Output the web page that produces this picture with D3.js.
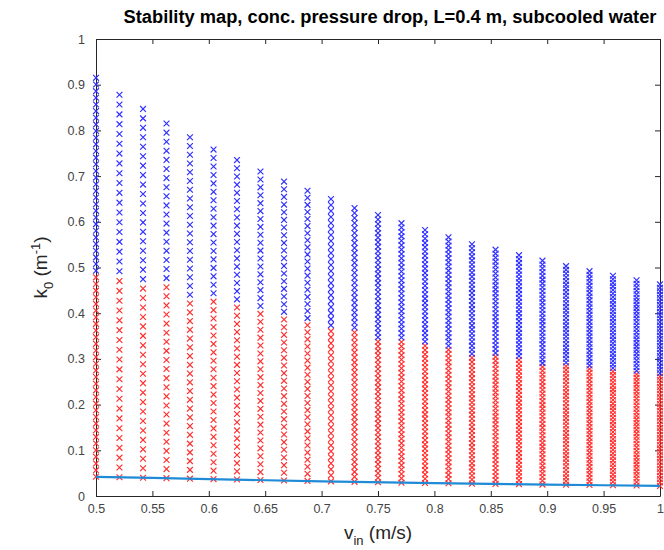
<!DOCTYPE html>
<html>
<head>
<meta charset="utf-8">
<script src="https://cdn.jsdelivr.net/npm/d3@7"></script>
<style>
html,body{margin:0;padding:0;background:#fff;}
svg{display:block;font-family:"Liberation Sans",Arial,sans-serif;}
</style>
</head>
<body>
<svg id="chart" width="664" height="550"></svg>
<script>
// ---- data ----
const title = "Stability map, conc. pressure drop, L=0.4 m, subcooled water";
const xTicks = [0.5,0.55,0.6,0.65,0.7,0.75,0.8,0.85,0.9,0.95,1];
const xTickLabels = ["0.5","0.55","0.6","0.65","0.7","0.75","0.8","0.85","0.9","0.95","1"];
const yTicks = [0,0.1,0.2,0.3,0.4,0.5,0.6,0.7,0.8,0.9,1];
const yTickLabels = ["0","0.1","0.2","0.3","0.4","0.5","0.6","0.7","0.8","0.9","1"];
// inlet velocity of each scanned column
const vIn = [0.5,0.5208,0.5417,0.5625,0.5833,0.6042,0.625,0.6458,0.6667,0.6875,0.7083,0.7292,0.75,0.7708,0.7917,0.8125,0.8333,0.8542,0.875,0.8958,0.9167,0.9375,0.9583,0.9792,1.0];
// lowest scanned k0 (on the boundary line) of each column
const kLow = [0.042,0.041,0.040,0.039,0.038,0.037,0.036,0.035,0.034,0.033,0.032,0.031,0.030,0.029,0.0285,0.028,0.027,0.0265,0.026,0.025,0.0245,0.024,0.0235,0.023,0.022];
// highest scanned k0 of each column
const kHigh = [0.915,0.878,0.847,0.815,0.785,0.758,0.735,0.71,0.688,0.668,0.65,0.63,0.615,0.597,0.582,0.566,0.551,0.539,0.527,0.515,0.503,0.492,0.482,0.472,0.463];
// highest unstable (red) k0 of each column
const kRedTop = [0.49,0.475,0.458,0.46,0.44,0.43,0.415,0.40,0.39,0.38,0.37,0.36,0.345,0.34,0.33,0.32,0.31,0.305,0.30,0.29,0.285,0.28,0.275,0.27,0.265];
// number of scanned k0 values in each column
const nScan = [61,40,40,40,40,40,40,40,40,42,48,56,60,60,60,60,60,60,60,60,60,60,60,60,60];
// lower limit curve
const lineV = [0.5,0.6,0.7,0.8,0.9,1.0];
const lineK = [0.042,0.037,0.032,0.028,0.025,0.022];

// ---- layout ----
const M = {left:96, right:660, top:39, bottom:496};
const svg = d3.select("#chart");
const x = d3.scaleLinear().domain([0.5,1]).range([M.left, M.right]);
const y = d3.scaleLinear().domain([0,1]).range([M.bottom, M.top]);
const axisCol = "#262626";
const labCol = "#444444";

// build scan grid
const pts = [];
vIn.forEach((v,i)=>{
  const n = nScan[i];
  for(let j=0;j<n;j++){
    const k = kLow[i] + j*(kHigh[i]-kLow[i])/(n-1);
    pts.push({v:v,k:k,unstable:k<=kRedTop[i]+1e-9});
  }
});

// axes
const gx = svg.append("g").attr("transform",`translate(0,${M.bottom})`)
  .call(d3.axisBottom(x).tickValues(xTicks).tickFormat((d,i)=>xTickLabels[i]).tickSizeInner(-5).tickSizeOuter(0).tickPadding(8));
const gxt = svg.append("g").attr("transform",`translate(0,${M.top})`)
  .call(d3.axisTop(x).tickValues(xTicks).tickFormat("").tickSizeInner(-5).tickSizeOuter(0));
const gy = svg.append("g").attr("transform",`translate(${M.left},0)`)
  .call(d3.axisLeft(y).tickValues(yTicks).tickFormat((d,i)=>yTickLabels[i]).tickSizeInner(-5).tickSizeOuter(0).tickPadding(11));
const gyr = svg.append("g").attr("transform",`translate(${M.right},0)`)
  .call(d3.axisRight(y).tickValues(yTicks).tickFormat("").tickSizeInner(-5).tickSizeOuter(0));
[gx,gxt,gy,gyr].forEach(g=>{
  g.selectAll("path").attr("stroke",axisCol).attr("stroke-width",1);
  g.selectAll("line").attr("stroke",axisCol).attr("stroke-width",1);
  g.selectAll("text").attr("fill",labCol).attr("font-size","12.5px").attr("font-family","Liberation Sans, Arial, sans-serif");
});

// markers
const s = 2.9;
const mk = svg.append("g");
mk.selectAll("path.m").data(pts).enter().append("path")
  .attr("class","m")
  .attr("d",d=>{const cx=x(d.v), cy=y(d.k);
    return `M${cx-s},${cy-s}L${cx+s},${cy+s}M${cx-s},${cy+s}L${cx+s},${cy-s}`;})
  .attr("stroke",d=>d.unstable?"#ff3030":"#3030ff")
  .attr("stroke-width",1.15)
  .attr("fill","none");

// limit line
svg.append("path").datum(lineV.map((v,i)=>[v,lineK[i]]))
  .attr("d",d3.line().x(d=>x(d[0])).y(d=>y(d[1])).curve(d3.curveMonotoneX))
  .attr("fill","none").attr("stroke","#1f8ad6").attr("stroke-width",2.2);

// title
svg.append("text").attr("x",390).attr("y",23).attr("text-anchor","middle")
  .attr("font-weight","bold").attr("font-size","18.3px").attr("fill","#000")
  .text(title);

// x label
const xl = svg.append("text").attr("x",(M.left+M.right)/2).attr("y",539).attr("text-anchor","middle")
  .attr("font-size","19px").attr("fill",axisCol);
xl.append("tspan").text("v");
xl.append("tspan").attr("font-size","13px").attr("dy",6).text("in");
xl.append("tspan").attr("dy",-6).text(" (m/s)");

// y label
const yl = svg.append("text").attr("transform",`translate(47,${(M.top+M.bottom)/2}) rotate(-90)`)
  .attr("text-anchor","middle").attr("font-size","19px").attr("fill",axisCol);
yl.append("tspan").text("k");
yl.append("tspan").attr("font-size","13px").attr("dy",6).text("0");
yl.append("tspan").attr("dy",-6).text(" (m");
yl.append("tspan").attr("font-size","13px").attr("dy",-7).text("-1");
yl.append("tspan").attr("dy",7).text(")");
</script>
</body>
</html>
